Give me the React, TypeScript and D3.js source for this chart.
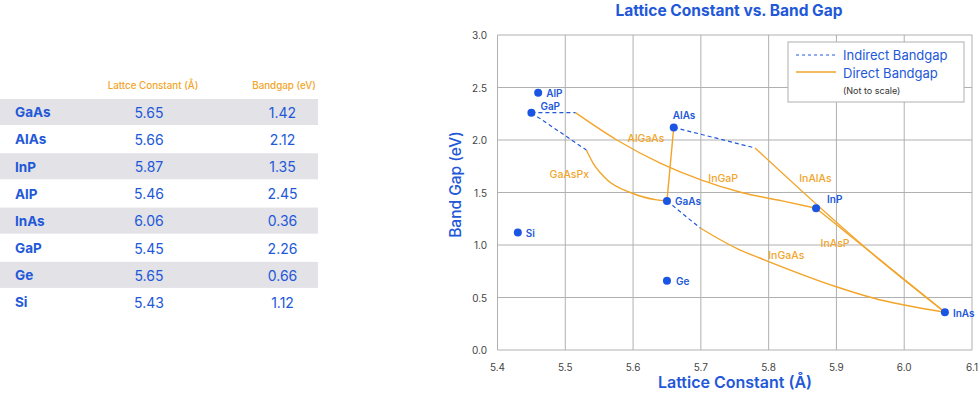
import React from 'react';
import * as d3 from 'd3';

// ---------- data ----------
const materials = ['GaAs', 'AlAs', 'InP', 'AlP', 'InAs', 'GaP', 'Ge', 'Si'];
const latticeConstants = [5.65, 5.66, 5.87, 5.46, 6.06, 5.45, 5.65, 5.43];
const bandgaps = [1.42, 2.12, 1.35, 2.45, 0.36, 2.26, 0.66, 1.12];
const tableHeaders = ['Lattce Constant (Å)', 'Bandgap (eV)'];

const xTicks = [5.4, 5.5, 5.6, 5.7, 5.8, 5.9, 6.0, 6.1];
const yTicks = [0, 0.5, 1.0, 1.5, 2.0, 2.5, 3.0];

// indirect (dashed) segments
const indirectGaPtoInGaP: [number, number][] = [[5.45, 2.26], [5.515, 2.26]];
const indirectGaPtoGaAsP: [number, number][] = [[5.45, 2.26], [5.531, 1.905]];
const indirectAlAstoInAlAs: [number, number][] = [[5.66, 2.12], [5.78, 1.924]];
const indirectGaAstoInGaAs: [number, number][] = [[5.65, 1.42], [5.699, 1.162]];

// direct (solid) curves
const directInGaP: [number, number][] = [[5.515, 2.26], [5.576, 2.0], [5.64, 1.78], [5.7, 1.62], [5.76, 1.5], [5.82, 1.42], [5.87, 1.35]];
const directGaAsP: [number, number][] = [[5.531, 1.905], [5.541, 1.78], [5.562, 1.62], [5.596, 1.5], [5.635, 1.43], [5.65, 1.42]];
const directAlGaAs: [number, number][] = [[5.66, 2.12], [5.65, 1.42]];
const directInAlAs: [number, number][] = [[5.78, 1.924], [5.96, 0.88], [6.06, 0.36]];
const directInAsP: [number, number][] = [[5.87, 1.35], [6.06, 0.36]];
const directInGaAs: [number, number][] = [[5.699, 1.162], [5.758, 0.952], [5.787, 0.876], [5.901, 0.6], [5.954, 0.495], [6.06, 0.36]];

const alloyNames = ['AlGaAs', 'GaAsPx', 'InGaP', 'InAlAs', 'InAsP', 'InGaAs'];
const alloyLabelX = [5.619, 5.506, 5.733, 5.869, 5.898, 5.826];
const alloyLabelY = [2.01, 1.667, 1.638, 1.629, 1.01, 0.898];

const legendItems = ['Indirect Bandgap', 'Direct Bandgap'];
const legendNote = '(Not to scale)';

// ---------- style ----------
const BLUE = '#2258d8';
const ORANGE = '#f2a52a';
const GRID = '#b0b0b0';
const FONT = 'Inter, "Noto Sans", sans-serif';

const labelOffsets: Record<string, [number, number]> = {
  GaAs: [8, 0],
  AlAs: [-1, -12],
  InP: [11, -9],
  AlP: [8, 0],
  InAs: [8, 1],
  GaP: [9, -7],
  Ge: [9, 0],
  Si: [8, 1],
};

export default function App() {
  const x = d3.scaleLinear().domain([5.4, 6.1]).range([497.5, 972]);
  const y = d3.scaleLinear().domain([0, 3]).range([350, 35]);

  const straight = d3.line<[number, number]>().x(d => x(d[0])).y(d => y(d[1]));
  const smooth = d3
    .line<[number, number]>()
    .x(d => x(d[0]))
    .y(d => y(d[1]))
    .curve(d3.curveMonotoneX);

  const indirect = [indirectGaPtoInGaP, indirectGaPtoGaAsP, indirectAlAstoInAlAs, indirectGaAstoInGaAs];
  const directs = [directInGaP, directGaAsP, directAlGaAs, directInAlAs, directInAsP, directInGaAs];

  const rowTop = 99;
  const rowPitch = 27.15;

  return (
    <svg width={980} height={396} style={{ position: 'absolute', left: 0, top: 0, fontFamily: FONT }}>
      <rect width={980} height={396} fill="#fff" />

      {/* ---------- table ---------- */}
      <g>
        <text x={153} y={85} textAnchor="middle" dominantBaseline="central" fill={ORANGE} fontSize={9.8} fontWeight={500}>
          {tableHeaders[0]}
        </text>
        <text x={284} y={85} textAnchor="middle" dominantBaseline="central" fill={ORANGE} fontSize={9.8} fontWeight={500}>
          {tableHeaders[1]}
        </text>
        {materials.map((m, i) => {
          const top = rowTop + i * rowPitch;
          const cy = top + 13.3;
          return (
            <g key={m}>
              {i % 2 === 0 && <rect x={0} y={top} width={318} height={26} fill="#e2e2e7" />}
              <text x={15} y={cy} dominantBaseline="central" fill={BLUE} fontSize={13.5} fontWeight={700}>
                {m}
              </text>
              <text x={149} y={cy} textAnchor="middle" dominantBaseline="central" fill={BLUE} fontSize={14} fontWeight={400}>
                {latticeConstants[i].toFixed(2)}
              </text>
              <text x={282.5} y={cy} textAnchor="middle" dominantBaseline="central" fill={BLUE} fontSize={14} fontWeight={400}>
                {bandgaps[i].toFixed(2)}
              </text>
            </g>
          );
        })}
      </g>

      {/* ---------- chart ---------- */}
      <text x={729} y={10.5} textAnchor="middle" dominantBaseline="central" fill={BLUE} fontSize={15.5} fontWeight={700}>
        Lattice Constant vs. Band Gap
      </text>

      {/* grid */}
      <g>
        {xTicks.map(t => (
          <line key={'gx' + t} x1={x(t)} x2={x(t)} y1={y(3)} y2={y(0)} stroke={GRID} strokeWidth={1} />
        ))}
        {yTicks.map(t => (
          <line key={'gy' + t} x1={x(5.4)} x2={x(6.1)} y1={y(t)} y2={y(t)} stroke={GRID} strokeWidth={1} />
        ))}
        {xTicks.map(t => (
          <text key={'tx' + t} x={x(t)} y={367} textAnchor="middle" dominantBaseline="central" fill="#444" fontSize={10}>
            {t.toFixed(1)}
          </text>
        ))}
        {yTicks.map(t => (
          <text key={'ty' + t} x={487} y={y(t)} textAnchor="end" dominantBaseline="central" fill="#444" fontSize={10}>
            {t.toFixed(1)}
          </text>
        ))}
      </g>

      <text x={735} y={381.5} textAnchor="middle" dominantBaseline="central" fill={BLUE} fontSize={16} fontWeight={600}>
        Lattice Constant (Å)
      </text>
      <text
        transform={`translate(455,${(y(0) + y(3)) / 2 - 8}) rotate(-90)`}
        textAnchor="middle"
        dominantBaseline="central"
        fill={BLUE}
        fontSize={15.5}
        fontWeight={500}
      >
        Band Gap (eV)
      </text>

      {/* curves */}
      {directs.map((c, i) => (
        <path key={'d' + i} d={(c.length > 2 ? smooth(c) : straight(c)) || ''} fill="none" stroke={ORANGE} strokeWidth={1.4} />
      ))}
      {indirect.map((c, i) => (
        <path key={'i' + i} d={straight(c) || ''} fill="none" stroke={BLUE} strokeWidth={1.2} strokeDasharray="4,3" />
      ))}

      {/* alloy labels */}
      {alloyNames.map((n, i) => (
        <text
          key={n}
          x={x(alloyLabelX[i])}
          y={y(alloyLabelY[i])}
          textAnchor="middle"
          dominantBaseline="central"
          fill={ORANGE}
          fontSize={10.5}
          fontWeight={500}
        >
          {n}
        </text>
      ))}

      {/* points */}
      {materials.map((m, i) => {
        const [dx, dy] = labelOffsets[m];
        const px = x(latticeConstants[i]);
        const py = y(bandgaps[i]);
        return (
          <g key={'p' + m}>
            <circle cx={px} cy={py} r={4} fill="#1a55e3" />
            <text x={px + dx} y={py + dy} dominantBaseline="central" fill={BLUE} fontSize={10} fontWeight={600}>
              {m}
            </text>
          </g>
        );
      })}

      {/* legend */}
      <g>
        <rect x={788} y={42} width={176} height={60} fill="#fff" stroke={GRID} strokeWidth={1} />
        <line x1={796} x2={836} y1={55} y2={55} stroke={BLUE} strokeWidth={1} strokeDasharray="3,3" />
        <text x={843} y={55} dominantBaseline="central" fill={BLUE} fontSize={13} fontWeight={400}>
          {legendItems[0]}
        </text>
        <line x1={796} x2={836} y1={72} y2={72} stroke={ORANGE} strokeWidth={1.4} />
        <text x={843} y={73} dominantBaseline="central" fill={BLUE} fontSize={13} fontWeight={400}>
          {legendItems[1]}
        </text>
        <text x={843} y={90.5} dominantBaseline="central" fill="#333" fontSize={9}>
          {legendNote}
        </text>
      </g>
    </svg>
  );
}
